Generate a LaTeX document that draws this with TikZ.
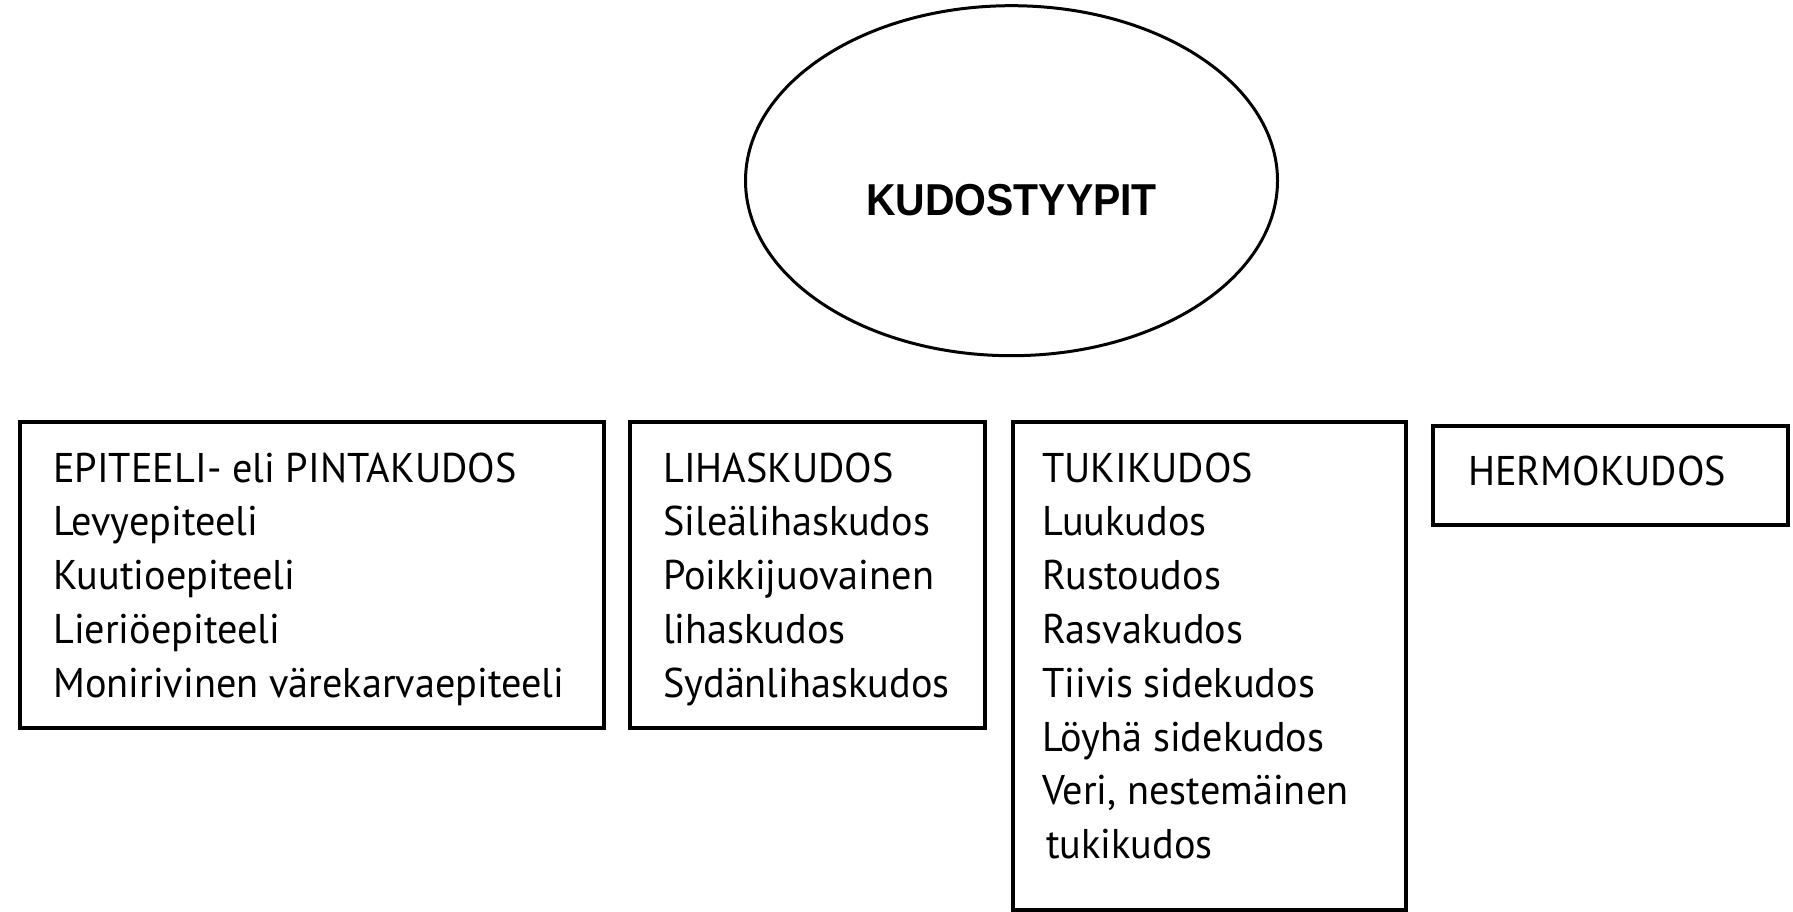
\documentclass[tikz,border=0pt]{standalone}
\usepackage{fontspec}
\setmainfont[FakeStretch=0.97]{PT Sans}
\newfontfamily\titlefont[FakeStretch=0.915]{Liberation Sans}
\usetikzlibrary{shapes.geometric}
\begin{document}
\begin{tikzpicture}[x=1pt,y=-1pt,
  frame/.style={draw, line width=3.3pt, rectangle, inner sep=0pt},
  txt/.style={anchor=base west, inner sep=0pt, align=left, font=\fontsize{41.5}{53.8}\selectfont}]
\useasboundingbox (0,0) rectangle (1793,912);
\node[draw, line width=3pt, ellipse, minimum width=532pt, minimum height=350pt, inner sep=0pt] (root) at (1011.5,180.7) {};
\node[anchor=base, inner sep=0pt, font=\titlefont\bfseries\fontsize{44.7}{50}\selectfont] (title) at (1011.5,215) {KUDOSTYYPIT};
\node[frame, minimum width=584pt, minimum height=306pt] (b1) at (312,575) {};
\node[frame, minimum width=355pt, minimum height=306pt] (b2) at (807.5,575) {};
\node[frame, minimum width=393pt, minimum height=488pt] (b3) at (1209.5,666) {};
\node[frame, minimum width=355pt, minimum height=99pt] (b4) at (1610.5,475.5) {};
\node[txt] (t1) at (53,697.2) {EPITEELI- eli PINTAKUDOS\\Levyepiteeli\\Kuutioepiteeli\\Lieriöepiteeli\\Monirivinen värekarvaepiteeli};
\node[txt] (t2) at (663,697.2) {LIHASKUDOS\\Sileälihaskudos\\Poikkijuovainen\\lihaskudos\\Sydänlihaskudos};
\node[txt] (t3) at (1042,858.6) {TUKIKUDOS\\Luukudos\\Rustoudos\\Rasvakudos\\Tiivis sidekudos\\Löyhä sidekudos\\Veri, nestemäinen\\\hspace*{4pt}tukikudos};
\node[txt] (t4) at (1468,485) {HERMOKUDOS};
\end{tikzpicture}
\end{document}
